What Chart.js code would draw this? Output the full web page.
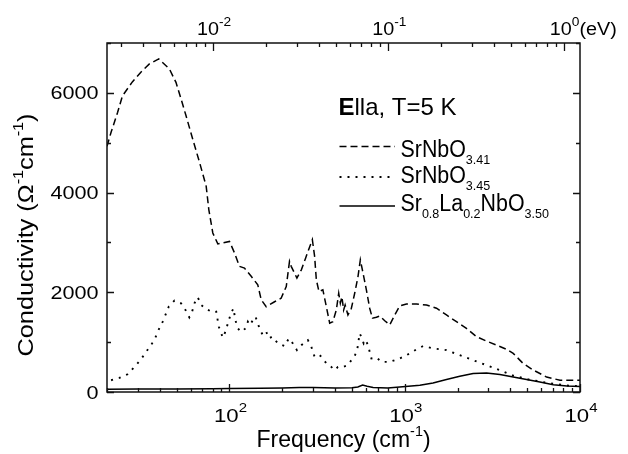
<!DOCTYPE html>
<html>
<head>
<meta charset="utf-8">
<title>Optical conductivity</title>
<script src="https://cdn.jsdelivr.net/npm/chart.js@4.4.0/dist/chart.umd.min.js"></script>
<style>
  html, body { margin: 0; padding: 0; background: #fff; }
  canvas { display: block; }
</style>
</head>
<body>
<canvas id="c" width="628" height="454" style="width:628px;height:454px"></canvas>
<script>
// Optical conductivity spectra, E || a, T = 5 K
// Frequencies in cm^-1, conductivity in Ohm^-1 cm^-1

const freq341 = [20, 21.1, 23.0, 24.5, 27.9, 31.3, 34.9, 39.5, 45.4, 49.5, 52.9, 56.5, 61.7, 67.4, 73.6, 76.2, 80.3, 85.8, 91.6, 100,
  106.8, 114, 121.8, 133, 145, 151.7, 162, 180.8, 197, 210.8, 220, 225, 242.5, 257, 272, 297, 306, 313, 324, 341,
  357, 373, 389, 407, 420, 429, 438, 448, 457, 474, 496, 518, 541, 558, 578, 604, 631, 654, 689, 720,
  769, 821, 877, 936, 1023, 1167, 1331, 1518, 1730, 1973, 2249, 2567, 2929, 3342, 3810, 4158, 4744, 5410, 6450, 7690, 10000];
const sigma341 = [4930, 5210, 5610, 5940, 6220, 6420, 6580, 6680, 6480, 6210, 5880, 5540, 5070, 4610, 4130, 3660, 3190, 2970, 2990, 3020,
  2790, 2520, 2485, 2320, 2150, 1850, 1710, 1810, 1880, 2115, 2620, 2520, 2285, 2450, 2690, 3055, 2720, 2250, 2015, 2050,
  1710, 1380, 1410, 1645, 1980, 1780, 1910, 1645, 1745, 1545, 1680, 1980, 2315, 2650, 2385, 2050, 1680, 1480, 1500, 1525,
  1430, 1345, 1545, 1725, 1765, 1765, 1745, 1680, 1545, 1410, 1275, 1110, 1020, 940, 855, 775, 570, 440, 300, 236, 236];

const freq345 = [21.1, 23.5, 26.2, 28.7, 31.3, 33.4, 35.7, 37.8, 39.5, 41.6, 43.1, 45, 48.5, 52.9, 56.1, 59, 61.2, 63.1, 65.9, 68.9,
  74.3, 80.3, 84, 86.9, 91.6, 95.7, 97.8, 102, 105.4, 108, 111.6, 116.6, 123.4, 127.3, 131, 136, 140.8, 145, 149.6, 155,
  162, 168, 175, 189, 206, 218, 230, 242.5, 257, 272, 280, 293, 306, 327, 341, 357, 381, 398, 416, 444,
  474, 496, 518, 537, 553, 565, 583, 598, 617, 645, 689, 736, 821, 936, 1069, 1191, 1273, 1452, 1730, 2061,
  2455, 2929, 3491, 4158, 4955, 5904, 7040, 8420, 10000];
const sigma345 = [236, 282, 356, 503, 658, 805, 940, 1095, 1256, 1410, 1545, 1712, 1833, 1780, 1645, 1498, 1611, 1780, 1901, 1746,
  1659, 1599, 1611, 1309, 1090, 1243, 1377, 1579, 1679, 1444, 1276, 1208, 1276, 1410, 1343, 1444, 1511, 1377, 1243, 1142,
  1208, 1075, 1108, 974, 920, 1075, 974, 840, 940, 1007, 1041, 907, 705, 739, 672, 572, 503, 437, 503, 503,
  538, 638, 719, 874, 1176, 1108, 974, 1041, 940, 672, 692, 604, 604, 672, 773, 874, 920, 874, 840, 739,
  638, 538, 437, 330, 260, 210, 165, 130, 115];

const freq350 = [20, 30, 50, 80, 100, 150, 200, 250, 300, 400, 500, 540, 575, 610, 660, 800, 936, 1220, 1450, 1730,
  2061, 2455, 2929, 3491, 4158, 4955, 5904, 7040, 8420, 10000];
const sigma350 = [55, 58, 62, 66, 72, 75, 82, 92, 92, 82, 85, 100, 140, 115, 90, 82, 100, 135, 181, 249,
  316, 370, 383, 350, 302, 249, 201, 145, 118, 112];

const seriesNames = ['SrNbO3.41', 'SrNbO3.45', 'Sr0.8La0.2NbO3.50'];
const bottomTickValues = [100, 1000, 10000];
const topTickValues = [0.01, 0.1, 1];
const yTickValues = [0, 2000, 4000, 6000];

const CM_PER_EV = 8065.54;
const FAMILY = '"Liberation Sans", Arial, Helvetica, sans-serif';

const toPoints = (fs, vs) => fs.map((f, i) => ({ x: f, y: vs[i] }));

const styles = [
  { dash: [7, 4], width: 1.5 },
  { dash: [2, 6], width: 1.9 },
  { dash: [], width: 1.5 }
];

// Rich text: parts are [text, kind] with kind n | b | sup | sub
function drawRich(ctx, parts, x, y, o) {
  const size = o.size, small = o.small || size * 0.65, sx = o.sx || 1;
  const fontFor = k => (k === 'sup' || k === 'sub') ? `${small}px ${FAMILY}`
    : (k === 'b' ? `bold ${size}px ${FAMILY}` : `${size}px ${FAMILY}`);
  const widths = parts.map(([t, k]) => { ctx.font = fontFor(k); return ctx.measureText(t).width; });
  const total = widths.reduce((a, b) => a + b, 0);
  const anchorW = o.anchorCount ? widths.slice(0, o.anchorCount).reduce((a, b) => a + b, 0) : total;
  ctx.save();
  ctx.translate(x, y);
  if (o.rotate) ctx.rotate(o.rotate);
  ctx.scale(sx, 1);
  let cx = o.align === 'center' ? -anchorW / 2 : (o.align === 'right' ? -anchorW : 0);
  ctx.textAlign = 'left';
  ctx.textBaseline = 'alphabetic';
  ctx.fillStyle = '#000';
  parts.forEach(([t, k], i) => {
    ctx.font = fontFor(k);
    const dy = k === 'sup' ? -(o.raise || size * 0.5) : (k === 'sub' ? (o.drop || size * 0.3) : 0);
    ctx.fillText(t, cx, dy);
    cx += widths[i];
  });
  ctx.restore();
}

const decorPlugin = {
  id: 'decor',
  beforeDraw(chart) {
    const c = chart.ctx;
    c.save();
    c.fillStyle = '#fff';
    c.fillRect(0, 0, chart.width, chart.height);
    c.restore();
  },
  afterDatasetsDraw(chart) {
    const c = chart.ctx;
    const a = chart.chartArea;
    const xs = chart.scales.x, ys = chart.scales.y;
    c.save();
    c.strokeStyle = '#111';
    c.lineWidth = 1.5;
    c.setLineDash([]);
    c.strokeRect(a.left, a.top, a.right - a.left, a.bottom - a.top);

    c.lineWidth = 1.3;
    c.beginPath();
    // bottom frequency ticks
    for (let k = 1; k <= 4; k++) {
      for (let m = 1; m <= 9; m++) {
        const v = m * Math.pow(10, k);
        if (v < xs.min || v > xs.max) continue;
        const px = Math.round(xs.getPixelForValue(v)) + 0.5;
        const len = m === 1 ? 8 : 4;
        c.moveTo(px, a.bottom); c.lineTo(px, a.bottom - len);
      }
    }
    // top energy ticks
    for (let k = -3; k <= 0; k++) {
      for (let m = 1; m <= 9; m++) {
        const e = m * Math.pow(10, k);
        const f = e * CM_PER_EV;
        if (f < xs.min || f > xs.max) continue;
        const px = Math.round(xs.getPixelForValue(f)) + 0.5;
        const len = m === 1 ? 8 : 4;
        c.moveTo(px, a.top); c.lineTo(px, a.top + len);
      }
    }
    // y ticks on both sides
    for (let v = 0; v <= 7000; v += 1000) {
      const py = Math.round(ys.getPixelForValue(v)) + 0.5;
      const len = v % 2000 === 0 ? 7 : 4;
      c.moveTo(a.left, py); c.lineTo(a.left + len, py);
      c.moveTo(a.right, py); c.lineTo(a.right - len, py);
    }
    c.stroke();
    c.restore();

    // tick labels
    yTickValues.forEach(v => {
      drawRich(c, [[String(v), 'n']], 98.5, ys.getPixelForValue(v) + 6.5, { size: 18, sx: 1.2, align: 'right' });
    });
    bottomTickValues.forEach(v => {
      const exp = Math.round(Math.log10(v));
      drawRich(c, [['10', 'n'], [String(exp), 'sup']], xs.getPixelForValue(v) + 1, 421.5,
        { size: 18.5, sx: 1.2, small: 12.5, raise: 9.5, align: 'center' });
    });
    topTickValues.forEach(e => {
      const exp = Math.round(Math.log10(e));
      const parts = [['10', 'n'], [exp < 0 ? '-' + (-exp) : String(exp), 'sup']];
      if (exp === 0) parts.push(['(eV)', 'n']);
      drawRich(c, parts, xs.getPixelForValue(e * CM_PER_EV) + 1, 35,
        { size: 18, sx: 1.1, small: 12.5, raise: 9, align: 'center', anchorCount: 2 });
    });

    // axis titles
    drawRich(c, [['Frequency (cm', 'n'], ['-1', 'sup'], [')', 'n']], 343.5, 447,
      { size: 24, sx: 0.96, small: 15, raise: 11, align: 'center' });
    drawRich(c, [['Conductivity (\u03A9', 'n'], ['-1', 'sup'], ['cm', 'n'], ['-1', 'sup'], [')', 'n']], 33, 235,
      { size: 22, sx: 1.15, small: 14, raise: 10, align: 'center', rotate: -Math.PI / 2 });

    // annotation
    drawRich(c, [['E', 'b'], ['lla, T=5 K', 'n']], 338.5, 115, { size: 24 });

    // legend
    const rows = [
      { y: 146.5, base: 156.5, parts: [['SrNbO', 'n'], ['3.41', 'sub']] },
      { y: 177, base: 183, parts: [['SrNbO', 'n'], ['3.45', 'sub']] },
      { y: 206, base: 210.5, parts: [['Sr', 'n'], ['0.8', 'sub'], ['La', 'n'], ['0.2', 'sub'], ['NbO', 'n'], ['3.50', 'sub']] }
    ];
    rows.forEach((r, i) => {
      c.save();
      c.strokeStyle = '#000';
      c.lineWidth = styles[i].width;
      c.setLineDash(styles[i].dash);
      c.beginPath();
      c.moveTo(339.5, r.y); c.lineTo(395, r.y);
      c.stroke();
      c.restore();
      drawRich(c, r.parts, 400.5, r.base, { size: 23, sx: 0.93, small: 13.5, drop: 7 });
    });
  }
};

const ds = [
  toPoints(freq341, sigma341),
  toPoints(freq345, sigma345),
  toPoints(freq350, sigma350)
].map((pts, i) => ({
  label: seriesNames[i],
  data: pts,
  borderColor: '#000',
  borderWidth: styles[i].width,
  borderDash: styles[i].dash,
  borderCapStyle: 'butt',
  pointRadius: 0,
  fill: false,
  tension: 0
}));

new Chart(document.getElementById('c').getContext('2d'), {
  type: 'line',
  data: { datasets: ds },
  options: {
    responsive: false,
    animation: false,
    devicePixelRatio: 1,
    parsing: true,
    layout: { padding: { left: 107, right: 48, top: 43, bottom: 62 } },
    scales: {
      x: { type: 'logarithmic', min: 20, max: 10000, display: false },
      y: { type: 'linear', min: 0, max: 7000, display: false }
    },
    plugins: { legend: { display: false }, tooltip: { enabled: false } }
  },
  plugins: [decorPlugin]
});
</script>
</body>
</html>
